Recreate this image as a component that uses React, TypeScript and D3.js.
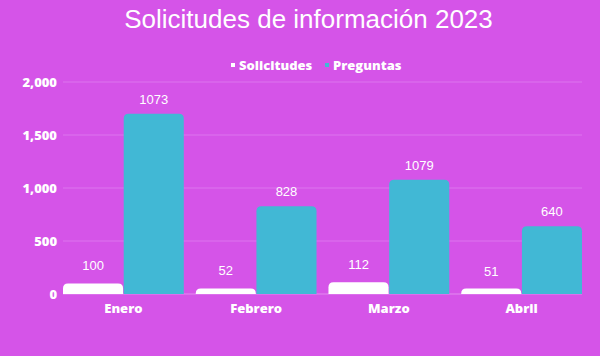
import React from "react";
import * as d3 from "d3";

const categories = ["Enero", "Febrero", "Marzo", "Abril"];
const solicitudesValues = [100, 52, 112, 51];
const solicitudesLabels = ["100", "52", "112", "51"];
const preguntasValues = [1700, 828, 1079, 640];
const preguntasLabels = ["1073", "828", "1079", "640"];
const yTicks = [0, 500, 1000, 1500, 2000];
const seriesNames = ["Solicitudes", "Preguntas"];

const W = 600;
const H = 356;
const BG = "#d554e8";
const BLUE = "#41b8d5";
const WHITE = "#ffffff";

function topRoundedRect(x: number, y: number, w: number, h: number, r: number) {
  const rr = Math.min(r, h, w / 2);
  const p = d3.path();
  p.moveTo(x, y + h);
  p.lineTo(x, y + rr);
  p.quadraticCurveTo(x, y, x + rr, y);
  p.lineTo(x + w - rr, y);
  p.quadraticCurveTo(x + w, y, x + w, y + rr);
  p.lineTo(x + w, y + h);
  p.closePath();
  return p.toString();
}

export default function App() {
  const x0 = d3.scaleBand<string>().domain(categories).range([63, 582]).paddingInner(0.09).paddingOuter(0);
  const x1 = d3.scaleBand<string>().domain(seriesNames).range([0, x0.bandwidth()]).paddingInner(0.01);
  const y = d3.scaleLinear().domain([0, 2000]).range([294, 82]);
  const fmt = d3.format(",");
  const boldFont = "'Open Sans', sans-serif";
  const series = [
    { name: seriesNames[0], values: solicitudesValues, labels: solicitudesLabels, color: WHITE, off: 13 },
    { name: seriesNames[1], values: preguntasValues, labels: preguntasLabels, color: BLUE, off: 10 },
  ];
  return (
    <svg width={W} height={H} style={{ display: "block", position: "absolute", left: 0, top: 0 }}>
      <rect x={0} y={0} width={W} height={H} fill={BG} />
      <text x={308.5} y={28} textAnchor="middle" fill="#fff" fontFamily="'Liberation Sans', Arial, sans-serif" fontSize={26}>
        Solicitudes de información 2023
      </text>
      {/* legend */}
      <g fontFamily={boldFont} fontWeight={800} fontSize={13} fill="#fff">
        <rect x={231} y={63} width={4} height={4} fill={WHITE} />
        <text x={239} y={70}>Solicitudes</text>
        <rect x={325} y={63} width={4} height={4} fill={BLUE} />
        <text x={333} y={70}>Preguntas</text>
      </g>
      {/* grid */}
      {yTicks.map((t) => (
        <line key={t} x1={63} x2={582} y1={y(t)} y2={y(t)} stroke={t === 0 ? "#e38af0" : "#dd74ee"} strokeWidth={1} />
      ))}
      {yTicks.map((t) => (
        <text key={"l" + t} x={57} y={y(t) + 5} textAnchor="end" fill="#fff" fontFamily={boldFont} fontWeight={800} fontSize={13}>
          {fmt(t)}
        </text>
      ))}
      {categories.map((c, i) => (
        <g key={c}>
          {series.map((s) => {
            const bx = (x0(c) ?? 0) + (x1(s.name) ?? 0);
            const bw = x1.bandwidth();
            const top = y(s.values[i]);
            return (
              <g key={s.name}>
                <path d={topRoundedRect(bx, top, bw, y(0) - top, 5)} fill={s.color} />
                <text x={bx + bw / 2} y={top - s.off} textAnchor="middle" fill="#fff" fontFamily="'Liberation Sans', Arial, sans-serif" fontSize={13}>
                  {s.labels[i]}
                </text>
              </g>
            );
          })}
          <text x={(x0(c) ?? 0) + x0.bandwidth() / 2} y={313} textAnchor="middle" fill="#fff" fontFamily={boldFont} fontWeight={800} fontSize={13}>
            {c}
          </text>
        </g>
      ))}
    </svg>
  );
}
